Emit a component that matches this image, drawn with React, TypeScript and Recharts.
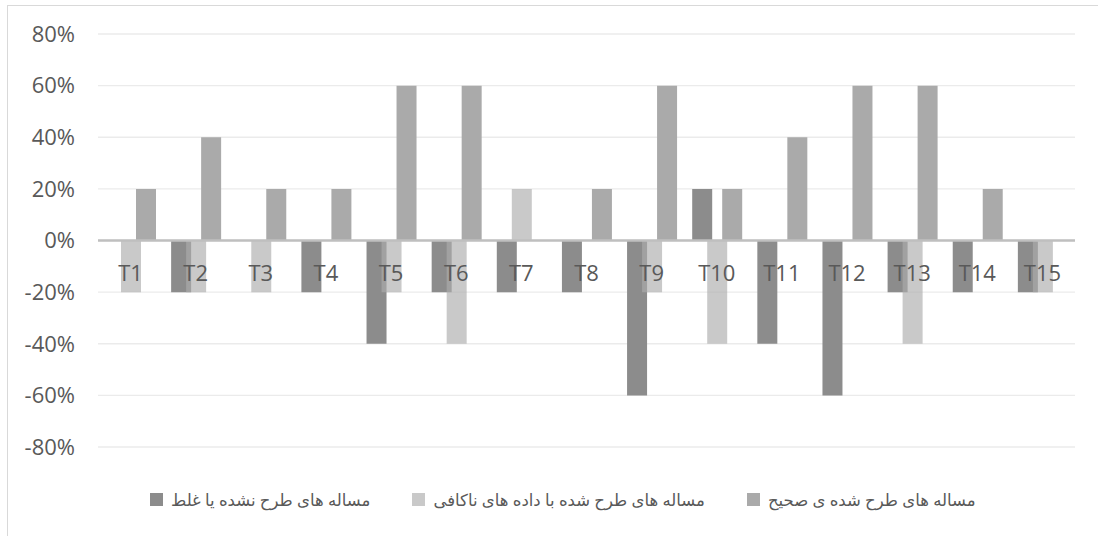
import { BarChart, Bar, XAxis, YAxis, CartesianGrid, ReferenceLine, Legend } from 'recharts'

// Category labels on the x axis
const categories = ['T1', 'T2', 'T3', 'T4', 'T5', 'T6', 'T7', 'T8', 'T9', 'T10', 'T11', 'T12', 'T13', 'T14', 'T15']

// Series values, in percent
const wrongOrNotPosed = [0, -20, 0, -20, -40, -20, -20, -20, -60, 20, -40, -60, -20, -20, -20]
const insufficientData = [-20, -20, -20, 0, -20, -40, 20, 0, -20, -40, 0, 0, -40, 0, -20]
const correctlyPosed = [20, 40, 20, 20, 60, 60, 0, 20, 60, 20, 40, 60, 60, 20, 0]

const seriesNames = [
  'مساله های طرح نشده یا غلط',
  'مساله های طرح شده با داده های ناکافی',
  'مساله های طرح شده ی صحیح',
]

const yTicks = [-80, -60, -40, -20, 0, 20, 40, 60, 80]

const W = 1098
const H = 536
const PLOT_TOP = 34
const PLOT_LEFT = 98
const PLOT_RIGHT = 1075
const LEGEND_H = 30
const LEGEND_BOTTOM = 22
const XAXIS_H = 37
const PLOT_BOTTOM = H - LEGEND_BOTTOM - LEGEND_H - XAXIS_H
const Y_AXIS_W = 60
const TEXT = '#595959'
const FONT = "'Open Sans', 'DejaVu Sans', sans-serif"

const series = [
  { key: 'wrong', name: seriesNames[0], fill: '#8c8c8c', opacity: 1 },
  { key: 'insufficient', name: seriesNames[1], fill: '#acacac', opacity: 0.65 },
  { key: 'correct', name: seriesNames[2], fill: '#aaaaaa', opacity: 1 },
]

const chartData = categories.map((name, i) => ({
  name,
  wrong: wrongOrNotPosed[i],
  insufficient: insufficientData[i],
  correct: correctlyPosed[i],
}))

// Excel draws category labels next to the zero line, not at the bottom
function CategoryTick(props: any) {
  const { x, payload } = props
  const zeroY = (PLOT_TOP + PLOT_BOTTOM) / 2
  return (
    <text x={x} y={zeroY + 31} textAnchor="middle" dominantBaseline="central"
      fill={TEXT} fontSize={22} fontFamily={FONT}>
      {payload.value}
    </text>
  )
}

function LegendContent() {
  return (
    <div style={{ display: 'flex', alignItems: 'center', height: LEGEND_H, paddingLeft: 150 - (PLOT_LEFT - Y_AXIS_W) }}>
      {series.map(s => (
        <div key={s.key} style={{ display: 'flex', alignItems: 'center', marginRight: 42 }}>
          <span style={{ width: 13, height: 13, background: s.fill, opacity: s.opacity, display: 'inline-block', marginRight: 8 }} />
          <span style={{ fontSize: 16.5, color: TEXT, fontFamily: FONT, whiteSpace: 'nowrap' }}>{s.name}</span>
        </div>
      ))}
    </div>
  )
}

export default function App() {
  return (
    <div style={{ position: 'absolute', left: 0, top: 0, width: W, height: H, background: '#fff', overflow: 'hidden' }}>
      {/* chart area border, only left and top edges are in view */}
      <div style={{ position: 'absolute', left: 7, top: 5, width: W, height: H, borderLeft: '1.5px solid #d9d9d9', borderTop: '1.5px solid #d9d9d9' }} />
      <div style={{ position: 'absolute', left: 0, top: 0 }}>
        <BarChart
          width={W}
          height={H}
          data={chartData}
          margin={{ top: PLOT_TOP, right: W - PLOT_RIGHT, left: PLOT_LEFT - Y_AXIS_W, bottom: LEGEND_BOTTOM }}
          barSize={20}
          barGap={-5}
        >
          <CartesianGrid vertical={false} stroke="#ebebeb" strokeWidth={1.3} />
          <YAxis
            width={Y_AXIS_W}
            domain={[-80, 80]}
            ticks={yTicks}
            tickFormatter={v => `${v}%`}
            axisLine={false}
            tickLine={false}
            tickSize={0}
            tickMargin={23}
            tick={{ fill: TEXT, fontSize: 22, fontFamily: FONT }}
          />
          {series.map(s => (
            <Bar key={s.key} dataKey={s.key} name={s.name} fill={s.fill} fillOpacity={s.opacity} isAnimationActive={false} />
          ))}
          <ReferenceLine y={0} stroke="#bfbfbf" strokeWidth={2.5} />
          <XAxis
            dataKey="name"
            height={XAXIS_H}
            axisLine={false}
            tickLine={false}
            interval={0}
            tick={<CategoryTick />}
          />
          <Legend verticalAlign="bottom" height={LEGEND_H} content={<LegendContent />} />
        </BarChart>
      </div>
    </div>
  )
}
